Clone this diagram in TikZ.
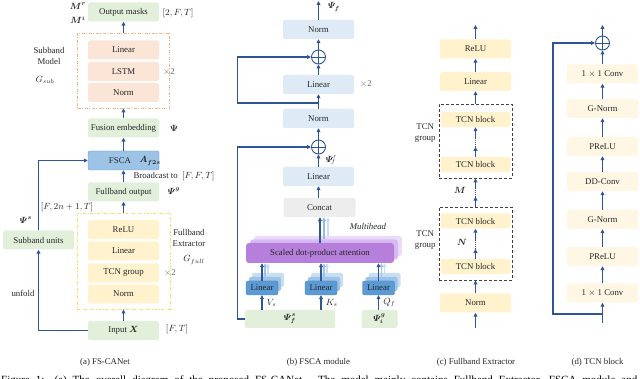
\documentclass[tikz,border=0pt]{standalone}
\usepackage{amsmath, amssymb, bm}
\usepackage{fontspec}
\setmainfont{Liberation Serif}
\usepackage{tikz}
\usetikzlibrary{arrows.meta, positioning, calc}
\definecolor{arrowblue}{HTML}{2F5597}
\definecolor{txtgray}{HTML}{262626}
\definecolor{boxgreen}{HTML}{E2EFDA}
\definecolor{boxorange}{HTML}{FBE5D6}
\definecolor{boxyellow}{HTML}{FFF2CC}
\definecolor{boxpale}{HTML}{FFF7E3}
\definecolor{boxblue}{HTML}{DEEBF7}
\definecolor{boxgray}{HTML}{EDEDED}
\definecolor{fscablue}{HTML}{9DC3E6}
\definecolor{linblue}{HTML}{5B9BD5}
\definecolor{linmid}{HTML}{9DC3E6}
\definecolor{linback}{HTML}{C9DEF2}
\definecolor{attfront}{HTML}{B57FDB}
\definecolor{attmid}{HTML}{D8B9F2}
\definecolor{attback}{HTML}{EADCF8}
\definecolor{dashorange}{HTML}{F4B183}
\definecolor{dashyellow}{HTML}{FFD966}
\tikzset{
    blk/.style={rounded corners=2pt, minimum width=71pt, minimum height=19pt,
        inner sep=1pt, align=center},
    gblk/.style={blk, fill=boxgreen},
    oblk/.style={blk, fill=boxorange},
    yblk/.style={blk, fill=boxyellow},
    pblk/.style={blk, fill=boxpale},
    bblk/.style={blk, fill=boxblue},
    cblk/.style={blk, fill=boxgray},
    lblk/.style={rounded corners=2pt, minimum width=32pt, minimum height=14pt,
        inner sep=0pt, draw=linblue!80!black, line width=0.3pt},
    attblk/.style={rounded corners=3pt, minimum width=148pt, minimum height=20pt,
        inner sep=0pt},
    sgrp/.style={draw=dashorange, line width=0.8pt,
        dash pattern=on 3pt off 1.5pt on 1pt off 1.5pt},
    fgrp/.style={draw=dashyellow, line width=0.8pt,
        dash pattern=on 3pt off 1.5pt on 1pt off 1.5pt},
    tgrp/.style={draw=black!75, line width=0.9pt, dash pattern=on 3pt off 2pt,
        minimum width=73pt},
    arr/.style={-{Triangle[length=4pt, width=3.8pt]}, line width=1.1pt, draw=arrowblue},
    dots/.style={line width=1.1pt, draw=arrowblue, dash pattern=on 0.8pt off 1.2pt},
    sumnode/.style={circle, draw=arrowblue, line width=0.9pt, minimum size=14pt,
        inner sep=0pt, path picture={
            \draw[arrowblue, line width=0.9pt]
                (path picture bounding box.north) -- (path picture bounding box.south)
                (path picture bounding box.west) -- (path picture bounding box.east);}},
    multxt/.style={text=black!60},
    captxt/.style={inner sep=0pt},
}

\begin{document}
\begin{tikzpicture}[x=1pt, y=-1pt, font=\fontsize{8.8}{11}\selectfont, text=txtgray]
    \useasboundingbox (0,0) rectangle (640,379);
    \clip (0,0) rectangle (640,379);

    % (a) FS-CANet
    \node[gblk] (mask) at (123.5,12) {Output masks};
    \node (mr) at (78,6) {$\bm{M^r}$};
    \node (mi) at (78,20) {$\bm{M^i}$};
    \node (dmask) at (178,13) {$[2,F,T]$};

    \node[sgrp, minimum width=92pt, minimum height=75pt] (subgrp) at (123.5,70.5) {};
    \node[oblk] (slin) at (123.5,50) {Linear};
    \node[oblk] (slstm) at (123.5,71.5) {LSTM};
    \node[oblk] (snorm) at (123.5,92.5) {Norm};
    \node[multxt] (sx) at (169,72) {$\times$2};
    \node[align=center] (stxt) at (49,55.5) {Subband\\Model};
    \node (gsub) at (45,80) {$G_{sub}$};

    \node[gblk] (fuse) at (123.5,128) {Fusion embedding};
    \node (psi) at (174,128) {$\bm{\Psi}$};

    \node[blk, fill=fscablue, draw=linblue, line width=0.4pt] (fsca) at (123.5,160.5) {};
    \node (fscat) at (120,160.5) {FSCA};
    \node (af2s) at (150,161) {$\bm{A_{f2s}}$};
    \node[right] (bcast) at (130,176.5) {Broadcast to~~$[F,F,T]$};

    \node[gblk] (fout) at (123.5,192) {Fullband output};
    \node (psig) at (174,191) {$\bm{\varPsi^g}$};

    \node[fgrp, minimum width=93pt, minimum height=96pt] (fegrp) at (123.5,261) {};
    \node[yblk] (frelu) at (123.5,229.5) {ReLU};
    \node[yblk] (flin) at (123.5,251) {Linear};
    \node[yblk] (ftcn) at (123.5,273) {TCN group};
    \node[yblk] (fnorm) at (123.5,294) {Norm};
    \node[multxt] (fx) at (170,273) {$\times$2};
    \node[align=center] (ftxt) at (189,238) {Fullband\\Extractor};
    \node (gfull) at (194,260) {$G_{full}$};

    \node[gblk] (inx) at (123.5,330.5) {Input $\bm{X}$};
    \node (dinx) at (177,329) {$[F,T]$};
    \node[gblk] (subu) at (38.5,240) {Subband units};
    \node (psis) at (26,220) {$\bm{\varPsi^s}$};
    \node (dsub) at (67,207) {$[F,2n+1,T]$};
    \node (unf) at (23,293) {unfold};

    \draw[arr] (inx.north) -- (fegrp.south);
    \draw[arr] (fegrp.north) -- (fout.south);
    \draw[arr] (fout.north) -- (fsca.south);
    \draw[arr] (fsca.north) -- (fuse.south);
    \draw[arr] (fuse.north) -- (subgrp.south);
    \draw[arr] (subgrp.north) -- (mask.south);
    \draw[arr] (inx.west) -| (subu.south);
    \draw[arr] (subu.north) |- (fsca.west);

    \node[captxt] (capa) at (105,362) {(a) FS-CANet};

    % (b) FSCA module
    \node[bblk] (bnorm2) at (318.5,29.5) {Norm};
    \node[sumnode] (add2) at (318.5,57) {};
    \node[bblk] (blin2) at (318.5,84.5) {Linear};
    \node[multxt] (bx) at (366,84) {$\times$2};
    \node[bblk] (bnorm1) at (318.5,118.5) {Norm};
    \node[sumnode] (add1) at (318.5,147) {};
    \node[bblk] (blin1) at (318.5,176.5) {Linear};
    \node[cblk, minimum width=72pt] (concat) at (319.5,207.5) {Concat};
    \node (mhead) at (368,227) {\itshape Multihead};
    \coordinate (bout) at (318.5,1);
    \node (psif) at (334,7) {$\bm{\varPsi_f}$};
    \node (psifp) at (331,160) {$\bm{\varPsi}'_{\!f}$};

    \node[gblk, minimum width=90pt, minimum height=18pt] (psisf) at (290,319) {$\bm{\varPsi^s_f}$};
    \node[gblk, minimum width=36pt, minimum height=18pt] (psigi) at (379.5,319) {$\bm{\varPsi^g_i}$};

    % linear heads
    \foreach \n/\x in {v/262, k/321, q/378.5} {
        \node[lblk, fill=linback, draw=none] (lin\n c) at (\x+6,280) {};
        \node[lblk, fill=linmid, draw=none] (lin\n b) at (\x+3,284) {};
        \node[lblk, fill=linblue] (lin\n) at (\x,288) {Linear};
    }

    % attention heads
    \node[attblk, fill=attback] (att3) at (328,246) {};
    \node[attblk, fill=attmid] (att2) at (324,249.5) {};
    \node[attblk, fill=attfront] (att) at (320,253) {Scaled dot-product attention};

    \foreach \n in {v, k, q} {
        \draw[arr, draw=linback] (lin\n c.north) -- (lin\n c.north |- att.south);
        \draw[arr, draw=linmid] (lin\n b.north) -- (lin\n b.north |- att.south);
        \draw[arr] (lin\n.north) -- (lin\n.north |- att.south);
    }
    \draw[arr] (linv.south |- psisf.north) -- node[right, xshift=1pt] {$V_s$} (linv.south);
    \draw[arr] (link.south |- psisf.north) -- node[right, xshift=1pt] {$K_s$} (link.south);
    \draw[arr] (linq.south |- psigi.north) -- node[right, xshift=1pt] {$Q_f$} (linq.south);

    \draw[arr, draw=linback] (att3.north) -- (att3.north |- concat.south);
    \draw[arr, draw=linmid!80!linblue] (att2.north) -- (att2.north |- concat.south);
    \draw[arr] (att.north) -- (att.north |- concat.south);

    \draw[arr] (concat.north -| blin1.south) -- (blin1.south);
    \draw[arr] (blin1.north) -- (add1.south);
    \draw[arr] (add1.north) -- (bnorm1.south);
    \draw[arr] (bnorm1.north) -- (blin2.south);
    \draw[arr] (blin2.north) -- (add2.south);
    \draw[arr] (add2.north) -- (bnorm2.south);
    \draw[arr] (bnorm2.north) -- (bout);

    \coordinate (bl) at ($(psisf.west)+(-7,0)$);
    \coordinate (bbr) at (318.5,103);
    \draw[arr] (psisf.west) -- (bl) |- (add1.west);
    \draw[arr] (bbr) -- (bbr -| bl) |- (add2.west);

    \node[captxt] (capb) at (318.5,362) {(b) FSCA module};

    % (c) Fullband Extractor
    \coordinate (cout) at (475.5,25);
    \node[yblk] (crelu) at (475.5,49) {ReLU};
    \node[yblk] (clin) at (475.5,81.5) {Linear};
    \node[tgrp, minimum height=74pt] (cgrp2) at (475.5,141) {};
    \node[yblk, minimum width=70pt, minimum height=15pt] (ctb4) at (475.5,119.5) {TCN block};
    \node[yblk, minimum width=70pt, minimum height=15pt] (ctb3) at (475.5,164.5) {TCN block};
    \node[tgrp, minimum height=73pt] (cgrp1) at (475.5,243.5) {};
    \node[yblk, minimum width=70pt, minimum height=15pt] (ctb2) at (475.5,221) {TCN block};
    \node[yblk, minimum width=70pt, minimum height=15pt] (ctb1) at (475.5,266.5) {TCN block};
    \node[yblk] (cnorm) at (475.5,303) {Norm};
    \coordinate (cin) at (475.5,328);
    \node[align=center, left] (tg2) at (439,133) {TCN\\group};
    \node[align=center, left] (tg1) at (439,240) {TCN\\group};
    \node (cm) at (460,190) {$\bm{M}$};
    \node (cn) at (462,242) {$\bm{N}$};

    \draw[arr] (cin) -- (cnorm.south);
    \draw[arr] (cnorm.north) -- (cgrp1.south);
    \foreach \a/\b in {ctb1/ctb2, ctb3/ctb4, cgrp1/cgrp2} {
        \draw[arr] (\a.north) -- ++(0,-10) coordinate (\a m);
        \draw[dots] (\a m) -- ++(0,-8) coordinate (\a n);
        \draw[arr] (\a n) -- (\b.south);
    }
    \draw[arr] (cgrp2.north) -- (clin.south);
    \draw[arr] (clin.north) -- (crelu.south);
    \draw[arr] (crelu.north) -- (cout);

    \node[captxt] (capc) at (476,362) {(c) Fullband Extractor};

    % (d) TCN block
    \coordinate (dout) at (602.5,25);
    \node[sumnode] (dadd) at (602.5,43) {};
    \node[pblk] (dconv1) at (602.5,74) {1 $\times$ 1 Conv};
    \node[pblk] (dgnorm2) at (602.5,108.5) {G-Norm};
    \node[pblk] (dprelu2) at (602.5,146.5) {PReLU};
    \node[pblk] (ddd) at (602.5,181.5) {DD-Conv};
    \node[pblk] (dgnorm1) at (602.5,219.5) {G-Norm};
    \node[pblk] (dprelu1) at (602.5,256.5) {PReLU};
    \node[pblk] (dconv0) at (602.5,293) {1 $\times$ 1 Conv};
    \coordinate (din) at (602.5,323);
    \coordinate (dbr) at (602.5,314);

    \draw[arr] (din) -- (dconv0.south);
    \foreach \a/\b in {dconv0/dprelu1, dprelu1/dgnorm1, dgnorm1/ddd, ddd/dprelu2,
        dprelu2/dgnorm2, dgnorm2/dconv1, dconv1/dadd} {
        \draw[arr] (\a.north) -- (\b.south);
    }
    \draw[arr] (dadd.north) -- (dout);
    \draw[arr] (dbr) -- ++(-49.5,0) |- (dadd.west);

    \node[captxt] (capd) at (597.5,362) {(d) TCN block};

    % figure caption (cut by the frame)
    \node[anchor=base west, inner sep=0pt, font=\fontsize{11}{13}\selectfont, text=black] (figcap) at (1,384)
        {\makebox[636pt][s]{Figure 1: (a) The overall diagram of the proposed FS-CANet. The model mainly contains Fullband Extractor, FSCA module and}};
\end{tikzpicture}
\end{document}
